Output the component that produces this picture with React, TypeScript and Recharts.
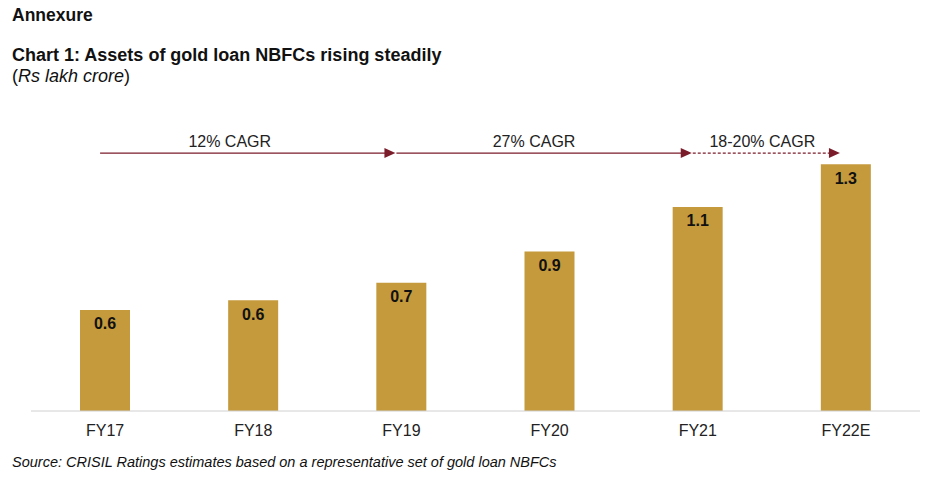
import React from "react";
import { BarChart, Bar, XAxis, YAxis, LabelList, ReferenceLine } from "recharts";

const years = ["FY17", "FY18", "FY19", "FY20", "FY21", "FY22E"];
const assets = [0.57, 0.62, 0.71, 0.87, 1.1, 1.32];

const cagrFrom = ["FY17", "FY19", "FY21"];
const cagrTo = ["FY19", "FY21", "FY22E"];
const cagrLabels = ["12% CAGR", "27% CAGR", "18-20% CAGR"];
const cagrDashed = [false, false, true];

const data = years.map((year, i) => ({ year, assets: assets[i] }));

const GOLD = "#C49A3C";
const MAROON = "#7B1C2A";
const FONT = "'Liberation Sans', Arial, sans-serif";
const ARROW_LEVEL = 1.377;
// label nudges so the captions sit where the original put them
const textShift = [-18, -10, -4];

function arrowShape(label: string, dashed: boolean, shift: number) {
  return (props: any) => {
    const x1 = props.x1 - 5;
    const x2 = props.x2 - 6;
    const y = props.y1;
    const mid = (x1 + x2) / 2 + shift;
    return (
      <g>
        <line
          x1={x1}
          y1={y}
          x2={x2 - 9}
          y2={y}
          stroke={MAROON}
          strokeWidth={1.3}
          strokeDasharray={dashed ? "3 2" : undefined}
        />
        <polygon points={`${x2},${y} ${x2 - 11},${y - 5} ${x2 - 11},${y + 5}`} fill={MAROON} />
        <text x={mid} y={y - 6} textAnchor="middle" fontSize={16} fill="#222" fontFamily={FONT}>
          {label}
        </text>
      </g>
    );
  };
}

export default function App() {
  return (
    <div style={{ position: "absolute", left: 0, top: 0, width: 935, height: 479, background: "#fff", fontFamily: FONT }}>
      <div style={{ position: "absolute", left: 12, top: 5, fontSize: 17.5, fontWeight: "bold", color: "#111" }}>Annexure</div>
      <div style={{ position: "absolute", left: 12, top: 45, fontSize: 18, fontWeight: "bold", color: "#111" }}>
        Chart 1: Assets of gold loan NBFCs rising steadily
      </div>
      <div style={{ position: "absolute", left: 12, top: 66, fontSize: 18, color: "#111" }}>
        (<i>Rs lakh crore</i>)
      </div>
      <BarChart
        width={935}
        height={479}
        data={data}
        margin={{ top: 100, right: 15, left: 31, bottom: 38 }}
        style={{ position: "absolute", left: 0, top: 0 }}
      >
        <XAxis
          dataKey="year"
          height={30}
          tickLine={false}
          axisLine={{ stroke: "#d0d0d0" }}
          tick={{ fill: "#222", fontSize: 16, fontFamily: FONT }}
          tickMargin={8}
        />
        <YAxis hide domain={[0.05, 1.65]} allowDataOverflow />
        <Bar dataKey="assets" fill={GOLD} barSize={50} isAnimationActive={false}>
          <LabelList
            dataKey="assets"
            position="insideTop"
            offset={8}
            formatter={(v: any) => Number(v).toFixed(1)}
            style={{ fill: "#111", fontSize: 16, fontWeight: "bold", fontFamily: FONT }}
          />
        </Bar>
        {cagrLabels.map((label, i) => (
          <ReferenceLine
            key={label}
            segment={[
              { x: cagrFrom[i], y: ARROW_LEVEL },
              { x: cagrTo[i], y: ARROW_LEVEL },
            ]}
            ifOverflow="visible"
            shape={arrowShape(label, cagrDashed[i], textShift[i])}
          />
        ))}
      </BarChart>
      <div style={{ position: "absolute", left: 12, top: 454, fontSize: 14.5, fontStyle: "italic", color: "#111" }}>
        Source: CRISIL Ratings estimates based on a representative set of gold loan NBFCs
      </div>
    </div>
  );
}
